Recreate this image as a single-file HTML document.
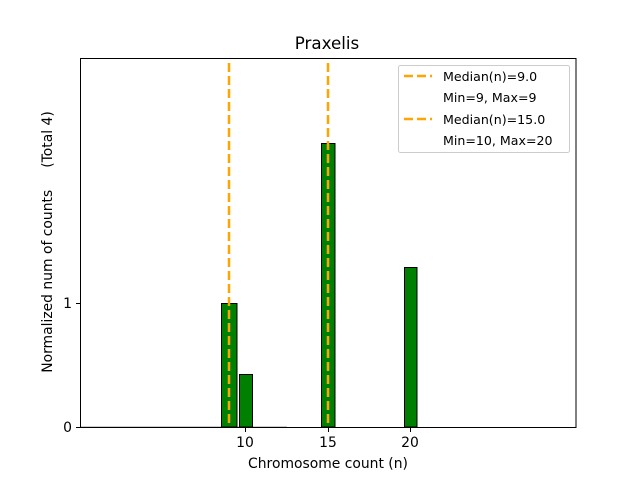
<!DOCTYPE html>
<html><head><style>body{margin:0;background:#fff}svg{display:block}text{font-family:"DejaVu Sans","Liberation Sans",sans-serif;fill:#000}</style></head><body>
<svg width="640" height="480" xmlns="http://www.w3.org/2000/svg">
<rect width="640" height="480" fill="#fff"/>
<line x1="80" y1="427" x2="287" y2="427" stroke="#bbb" stroke-width="1.5"/>
<g fill="#008000" stroke="#000" stroke-width="1">
<rect x="221.5" y="303.5" width="15.5" height="123.5"/>
<rect x="239.5" y="374.5" width="13" height="52.5"/>
<rect x="321.5" y="143.5" width="13.5" height="283.5"/>
<rect x="404.5" y="267.5" width="12.5" height="159.5"/>
</g>
<g stroke="#FFA500" stroke-width="2.5" stroke-dasharray="9,4">
<line x1="229" y1="63" x2="229" y2="427"/>
<line x1="328" y1="63" x2="328" y2="427"/>
</g>
<rect x="80.5" y="58.5" width="495.5" height="369" fill="none" stroke="#000" stroke-width="1"/>
<g stroke="#000"><line x1="76" y1="303.5" x2="80" y2="303.5"/><line x1="76" y1="427.5" x2="80" y2="427.5"/>
<line x1="245.5" y1="428" x2="245.5" y2="432"/><line x1="328.5" y1="428" x2="328.5" y2="432"/><line x1="410.5" y1="428" x2="410.5" y2="432"/></g>
<g font-size="13.9" text-anchor="end"><text x="72" y="308">1</text><text x="72" y="432">0</text></g>
<g font-size="13.9" text-anchor="middle"><text x="245" y="447">10</text><text x="328" y="447">15</text><text x="410" y="447">20</text>
<text x="328" y="468">Chromosome count (n)</text></g>
<text x="327" y="49" font-size="16.7" text-anchor="middle">Praxelis</text>
<text transform="translate(52,242) rotate(-90)" font-size="13.9" text-anchor="middle" style="white-space:pre" xml:space="preserve">Normalized num of counts     (Total 4)</text>
<rect x="398.5" y="65.5" width="171" height="87" rx="2" fill="#fff" fill-opacity="0.8" stroke="#ccc"/>
<g stroke="#FFA500" stroke-width="2.5" stroke-dasharray="9,4"><line x1="404" y1="76" x2="432" y2="76"/><line x1="404" y1="119" x2="432" y2="119"/></g>
<g font-size="12.6"><text x="443" y="81">Median(n)=9.0</text><text x="443" y="102">Min=9, Max=9</text><text x="443" y="124">Median(n)=15.0</text><text x="443" y="145">Min=10, Max=20</text></g>
</svg></body></html>
